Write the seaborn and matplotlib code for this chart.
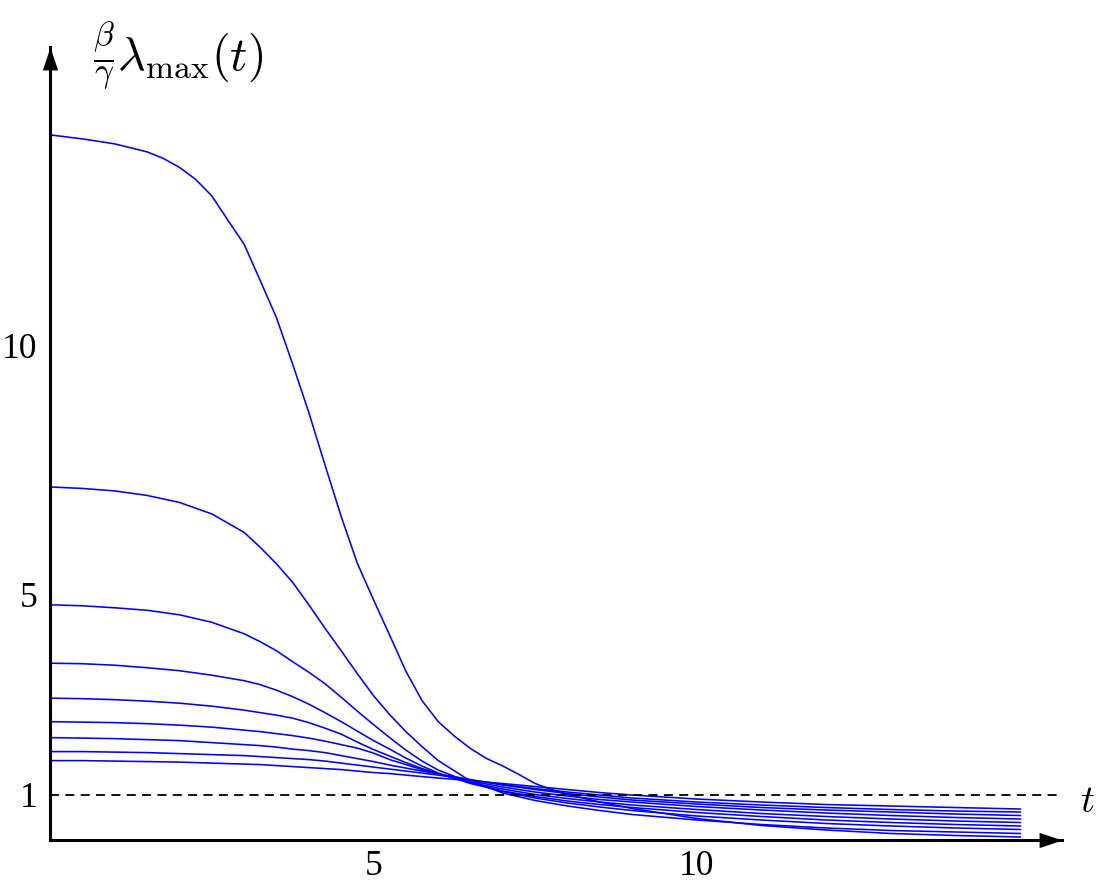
import matplotlib.pyplot as plt
import seaborn as sns
import pandas as pd

# time grid for the steep top curve, and for the others
t_top = [0, 0.5, 1, 1.5, 1.75, 2, 2.25, 2.5, 2.75, 3, 3.25, 3.5, 3.75, 4, 4.25,
         4.5, 4.75, 5, 5.25, 5.5, 5.75, 6, 6.25, 6.5, 6.75, 7, 7.25, 7.5, 7.75,
         8, 8.5, 9, 10, 11, 12, 13, 14, 15]
t = [0, 0.5, 1, 1.5, 2, 2.5, 3, 3.25, 3.5, 3.75, 4, 4.25, 4.5, 4.75, 5, 5.25,
     5.5, 5.75, 6, 6.5, 7, 7.5, 8, 8.5, 9, 10, 11, 12, 13, 14, 15]

# (beta/gamma) * lambda_max(t), top curve first
lam1 = [14.21, 14.13, 14.03, 13.87, 13.74, 13.56, 13.32, 12.99, 12.50, 12.02,
        11.29, 10.55, 9.62, 8.65, 7.60, 6.57, 5.63, 4.90, 4.19, 3.47, 2.88, 2.46,
        2.17, 1.92, 1.72, 1.57, 1.40, 1.22, 1.10, 1.00, 0.85, 0.72, 0.52, 0.38,
        0.29, 0.22, 0.18, 0.15]
lam2 = [7.16, 7.13, 7.08, 6.99, 6.85, 6.62, 6.25, 5.95, 5.62, 5.25, 4.80, 4.33,
        3.88, 3.42, 2.98, 2.60, 2.26, 1.96, 1.68, 1.27, 1.03, 0.88, 0.77, 0.68,
        0.60, 0.49, 0.40, 0.33, 0.28, 0.25, 0.22]
lam3 = [4.80, 4.78, 4.74, 4.69, 4.60, 4.45, 4.22, 4.06, 3.88, 3.66, 3.45, 3.22,
        2.95, 2.67, 2.40, 2.14, 1.89, 1.67, 1.49, 1.24, 1.06, 0.93, 0.83, 0.75,
        0.68, 0.57, 0.49, 0.42, 0.37, 0.33, 0.30]
lam4 = [3.63, 3.62, 3.59, 3.54, 3.48, 3.39, 3.28, 3.20, 3.09, 2.96, 2.81, 2.64,
        2.46, 2.27, 2.08, 1.91, 1.73, 1.57, 1.43, 1.22, 1.07, 0.96, 0.87, 0.80,
        0.74, 0.64, 0.56, 0.49, 0.44, 0.40, 0.37]
lam5 = [2.93, 2.92, 2.90, 2.87, 2.83, 2.77, 2.69, 2.64, 2.59, 2.53, 2.44, 2.33,
        2.21, 2.05, 1.90, 1.77, 1.64, 1.52, 1.42, 1.24, 1.11, 1.00, 0.92, 0.85,
        0.79, 0.70, 0.62, 0.56, 0.51, 0.47, 0.44]
lam6 = [2.46, 2.45, 2.44, 2.42, 2.39, 2.35, 2.29, 2.26, 2.22, 2.18, 2.13, 2.07,
        2.00, 1.93, 1.83, 1.70, 1.60, 1.50, 1.41, 1.27, 1.15, 1.05, 0.97, 0.90,
        0.85, 0.76, 0.69, 0.63, 0.58, 0.54, 0.51]
lam7 = [2.14, 2.13, 2.12, 2.10, 2.08, 2.04, 2.00, 1.98, 1.95, 1.91, 1.88, 1.84,
        1.78, 1.72, 1.66, 1.59, 1.53, 1.47, 1.41, 1.30, 1.19, 1.10, 1.02, 0.95,
        0.89, 0.81, 0.74, 0.69, 0.65, 0.61, 0.58]
lam8 = [1.86, 1.86, 1.85, 1.84, 1.82, 1.80, 1.78, 1.76, 1.74, 1.72, 1.70, 1.67,
        1.63, 1.59, 1.55, 1.51, 1.47, 1.43, 1.39, 1.29, 1.20, 1.12, 1.05, 0.99,
        0.93, 0.85, 0.79, 0.74, 0.70, 0.67, 0.65]
lam9 = [1.68, 1.68, 1.67, 1.66, 1.65, 1.63, 1.61, 1.60, 1.58, 1.56, 1.54, 1.52,
        1.50, 1.47, 1.44, 1.42, 1.39, 1.36, 1.33, 1.28, 1.22, 1.16, 1.10, 1.04,
        0.99, 0.91, 0.85, 0.80, 0.77, 0.74, 0.71]

threshold = 1
x_ticks = [5, 10]
y_ticks = [1, 5, 10]

curves = [(t_top, lam1), (t, lam2), (t, lam3), (t, lam4), (t, lam5),
          (t, lam6), (t, lam7), (t, lam8), (t, lam9)]
df = pd.DataFrame({
    't': [x for ts, c in curves for x in ts],
    'lam': [v for ts, c in curves for v in c],
    'curve': [i for i, (ts, c) in enumerate(curves) for _ in c],
})

sns.set_style('white')
plt.rcParams['font.family'] = ['Liberation Serif', 'DejaVu Serif']
plt.rcParams['mathtext.fontset'] = 'cm'
plt.rcParams['text.color'] = 'black'

fig = plt.figure(figsize=(10.96, 8.86), dpi=100)
ax = fig.add_axes([50 / 1096, 46 / 886, 1012 / 1096, 793 / 886])

sns.lineplot(data=df, x='t', y='lam', units='curve', estimator=None,
             color='blue', linewidth=1.15, legend=False, ax=ax)
ax.axhline(threshold, xmin=0, xmax=0.998, color='black', lw=1.3,
           ls=(0, (5, 3.5)))

ax.set_xlim(0, 15.64)
ax.set_ylim(0.09, 15.97)
ax.set_xticks(x_ticks)
ax.set_yticks(y_ticks)
ax.set_xlabel('')
ax.set_ylabel('')
ax.tick_params(direction='in', length=6, width=1.3, labelsize=25.5,
               color='black', labelcolor='black')
ax.tick_params(axis='x', pad=7.5)
ax.tick_params(axis='y', pad=9)

for s in ['top', 'right']:
    ax.spines[s].set_visible(False)
for s in ['left', 'bottom']:
    ax.spines[s].set_linewidth(2.2)
    ax.spines[s].set_color('black')

# arrow heads on the axes
ax.plot([1], [0], marker=[(0, 0), (-3, 1), (-3, -1), (0, 0)], ms=33,
        color='black', mew=0, transform=ax.transAxes, clip_on=False)
ax.plot([0], [1], marker=[(0, 0), (1, -3), (-1, -3), (0, 0)], ms=33,
        color='black', mew=0, transform=ax.transAxes, clip_on=False)

fig.text(178 / 1096, 1 - 56 / 886, r'$\frac{\beta}{\gamma}\lambda_{\mathrm{max}}(t)$',
         fontsize=34.5, ha='center', va='center', color='black')
fig.text(1087 / 1096, 1 - 803 / 886, r'$t$', fontsize=28,
         ha='center', va='center', color='black')

fig.savefig('out.png', dpi=100)
